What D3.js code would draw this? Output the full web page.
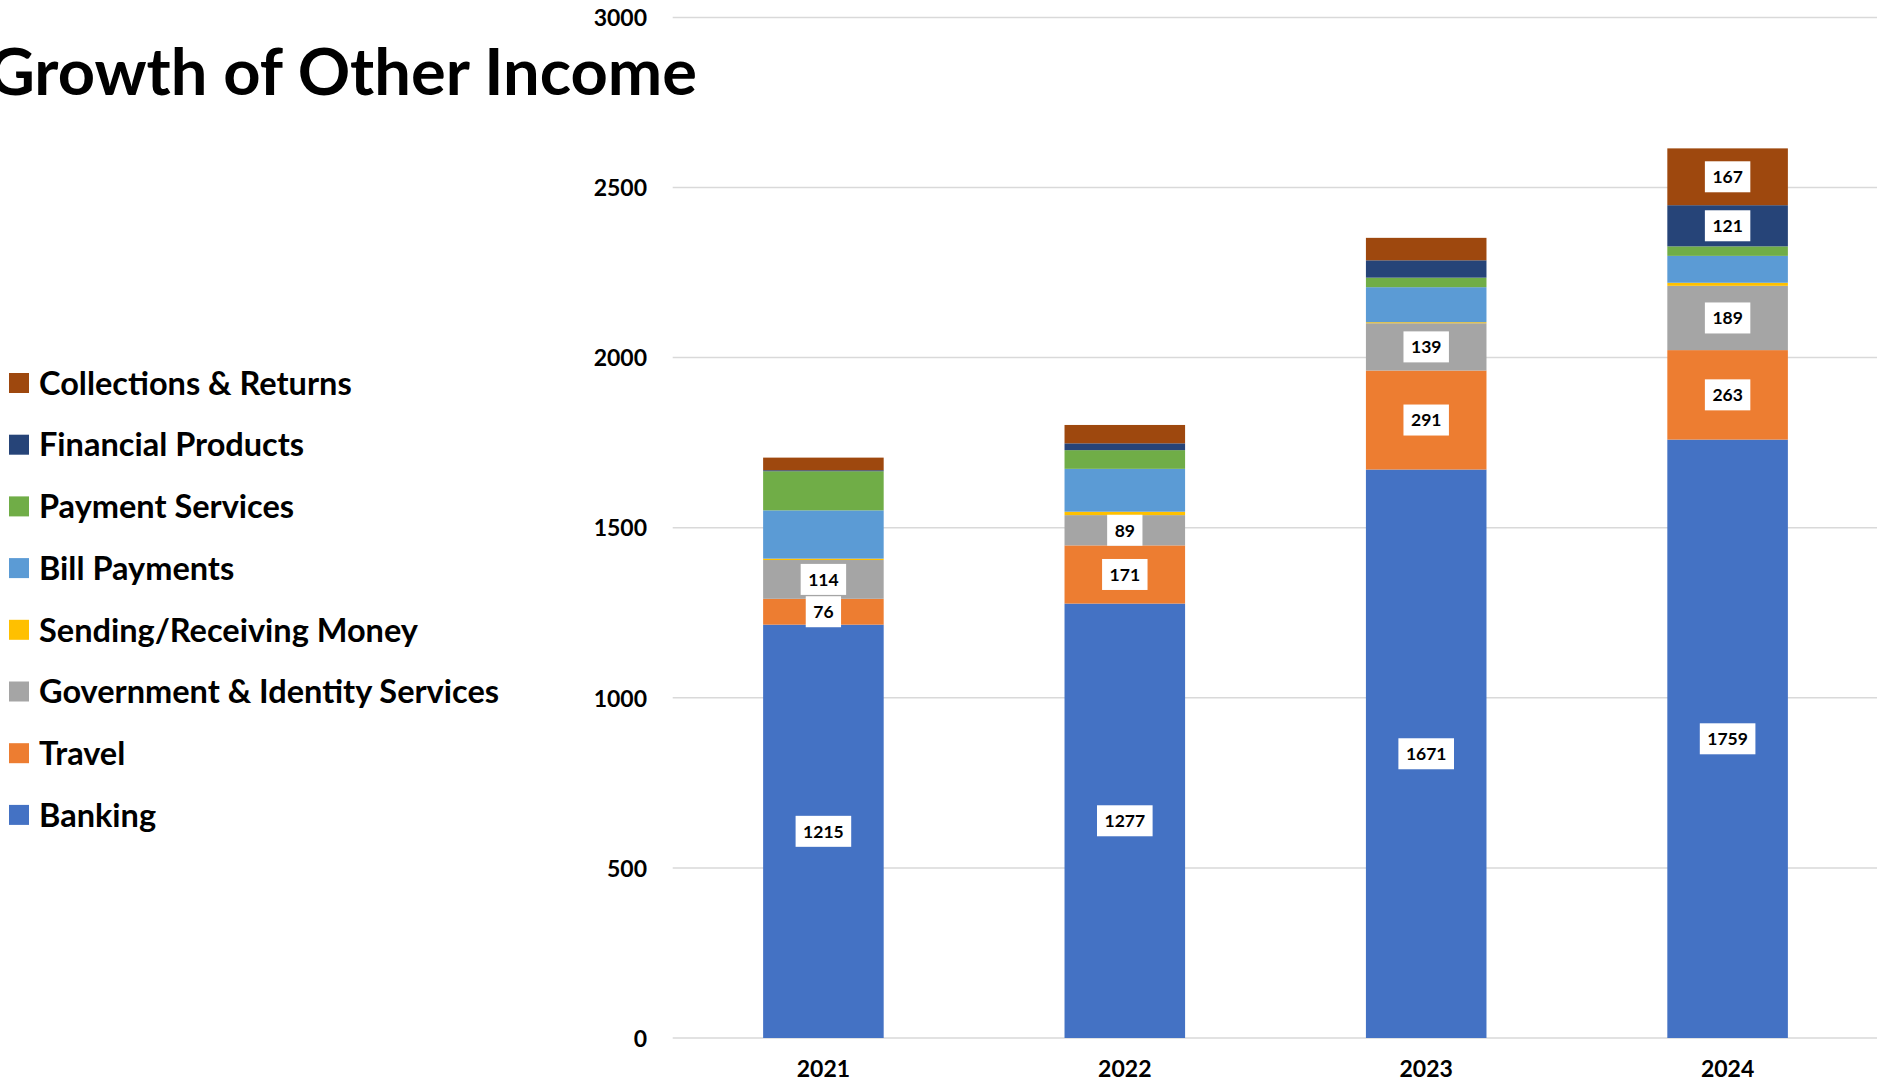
<!DOCTYPE html>
<html>
<head>
<meta charset="utf-8">
<script src="https://cdn.jsdelivr.net/npm/d3@7"></script>
<style>
  html, body { margin: 0; padding: 0; background: #fff; overflow: hidden; }
  svg { display: block; font-family: Lato, "Open Sans", sans-serif; }
</style>
</head>
<body>
<svg id="chart" width="1877" height="1083"></svg>
<script>
// Other income by category, stacked per year
const years = ["2021", "2022", "2023", "2024"];
const seriesNames = [
  "Banking",
  "Travel",
  "Government & Identity Services",
  "Sending/Receiving Money",
  "Bill Payments",
  "Payment Services",
  "Financial Products",
  "Collections & Returns"
];
const banking      = [1215, 1277, 1671, 1759];
const travel       = [76, 171, 291, 263];
const government   = [114, 89, 139, 189];
const sending      = [4, 10, 3, 9];
const billPayments = [142, 126, 103, 79];
const paymentSvc   = [115, 55, 28, 28];
const financial    = [3, 20, 51, 121];
const collections  = [37, 54, 66, 167];
const seriesColors = ["#4472C4", "#ED7D31", "#A5A5A5", "#FFC000", "#5B9BD5", "#70AD47", "#264478", "#9E480E"];
const yTicks = [0, 500, 1000, 1500, 2000, 2500, 3000];
// segments that carry a value label: [year, series]
const labelled = [
  ["2021", "Banking"], ["2021", "Travel"], ["2021", "Government & Identity Services"],
  ["2022", "Banking"], ["2022", "Travel"], ["2022", "Government & Identity Services"],
  ["2023", "Banking"], ["2023", "Travel"], ["2023", "Government & Identity Services"],
  ["2024", "Banking"], ["2024", "Travel"], ["2024", "Government & Identity Services"],
  ["2024", "Financial Products"], ["2024", "Collections & Returns"]
];

const seriesValues = [banking, travel, government, sending, billPayments, paymentSvc, financial, collections];
const table = years.map((yr, i) => {
  const row = { year: yr };
  seriesNames.forEach((s, k) => { row[s] = seriesValues[k][i]; });
  return row;
});

const svg = d3.select("#chart");

const x = d3.scaleBand().domain(years).range([672.7, 1878.3]).paddingInner(0.6).paddingOuter(0.3);
const y = d3.scaleLinear().domain([0, 3000]).range([1038, 17.4]);
const color = d3.scaleOrdinal().domain(seriesNames).range(seriesColors);

// horizontal gridlines
svg.append("g").selectAll("line").data(yTicks).join("line")
  .attr("x1", 672.7).attr("x2", 1877)
  .attr("y1", d => y(d)).attr("y2", d => y(d))
  .attr("stroke", "#d9d9d9").attr("stroke-width", 1.5);

// y axis labels
const yAxis = d3.axisLeft(y).tickValues(yTicks).tickFormat(d3.format("d")).tickSize(0).tickPadding(0);
svg.append("g").attr("transform", "translate(647,0)").call(yAxis)
  .call(g => g.select(".domain").remove())
  .call(g => g.selectAll("text")
    .attr("font-family", "Lato").attr("font-weight", 700).attr("font-size", 23)
    .attr("fill", "#000").attr("dy", "0.36em"));

// stacked bars
const stack = d3.stack().keys(seriesNames);
const layers = stack(table);

svg.append("g").selectAll("g").data(layers).join("g")
  .attr("fill", d => color(d.key))
  .selectAll("rect").data(d => d.map(p => ({ key: d.key, p }))).join("rect")
  .attr("x", d => x(d.p.data.year))
  .attr("width", x.bandwidth())
  .attr("y", d => y(d.p[1]))
  .attr("height", d => y(d.p[0]) - y(d.p[1]));

// x axis labels
const xAxis = d3.axisBottom(x).tickSize(0).tickPadding(0);
svg.append("g").attr("transform", "translate(0,1069)").call(xAxis)
  .call(g => g.select(".domain").remove())
  .call(g => g.selectAll("text")
    .attr("font-family", "Lato").attr("font-weight", 700).attr("font-size", 23)
    .attr("fill", "#000").attr("dy", "0.36em"));

// value labels on white boxes
const labelSet = new Set(labelled.map(d => d[0] + "|" + d[1]));
const labelData = [];
layers.forEach(layer => {
  layer.forEach(p => {
    if (labelSet.has(p.data.year + "|" + layer.key)) {
      labelData.push({ year: p.data.year, value: p.data[layer.key], mid: (p[0] + p[1]) / 2 });
    }
  });
});
const lbl = svg.append("g").selectAll("g").data(labelData).join("g")
  .attr("transform", d => `translate(${x(d.year) + x.bandwidth() / 2},${y(d.mid)})`);
lbl.append("text")
  .attr("text-anchor", "middle").attr("dy", "0.36em")
  .attr("font-family", "Lato").attr("font-weight", 700).attr("font-size", 17.5)
  .attr("fill", "#000")
  .text(d => d.value);
lbl.each(function () {
  const g = d3.select(this);
  const w = g.select("text").node().getComputedTextLength() + 15;
  g.insert("rect", "text").attr("x", -w / 2).attr("y", -15.5).attr("width", w).attr("height", 31).attr("fill", "#fff");
});

// legend, top entry is the top of the stack
const legendOrder = seriesNames.slice().reverse();
const legend = svg.append("g").selectAll("g").data(legendOrder).join("g")
  .attr("transform", (d, i) => `translate(9,${383 + i * 61.7})`);
legend.append("rect").attr("x", 0).attr("y", -10).attr("width", 20).attr("height", 20).attr("fill", d => color(d));
legend.append("text").attr("x", 30).attr("dy", "0.36em")
  .attr("font-family", "Lato").attr("font-weight", 700).attr("font-size", 32.5)
  .attr("fill", "#000").text(d => d);

// title
svg.append("text").attr("x", 697).attr("y", 95).attr("text-anchor", "end")
  .attr("font-family", "Lato").attr("font-weight", 700).attr("font-size", 65)
  .attr("fill", "#000").text("Growth of Other Income");
</script>
</body>
</html>
